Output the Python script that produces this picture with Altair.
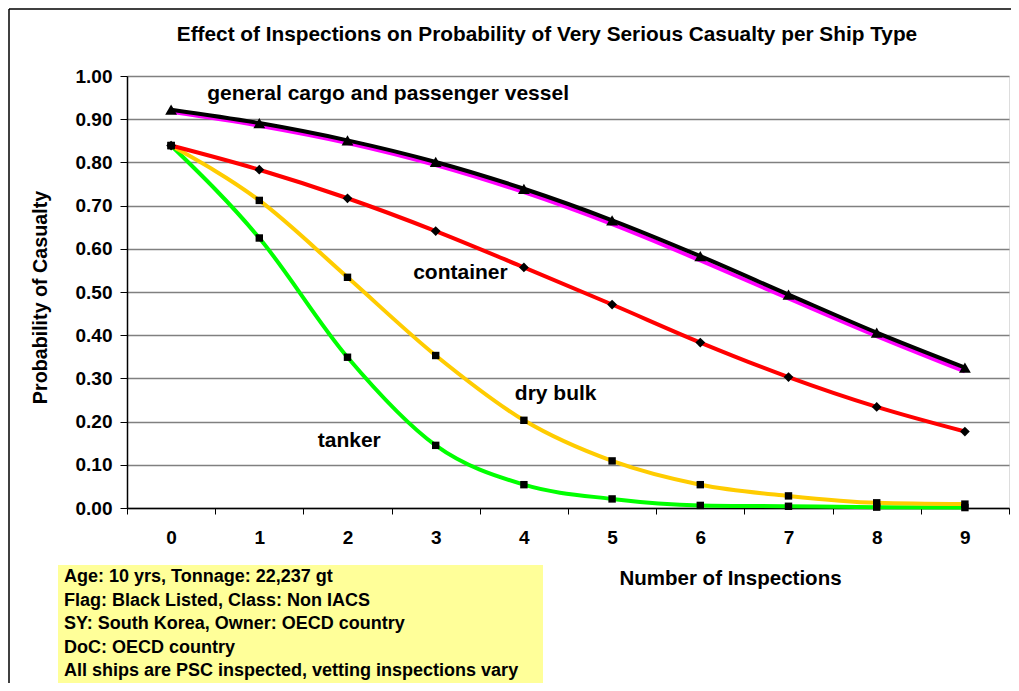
import altair as alt
import pandas as pd

# ---- data ----
inspections = list(range(10))
general_cargo = [0.922, 0.891, 0.851, 0.801, 0.739, 0.666, 0.583, 0.494, 0.406, 0.325]
passenger = [0.917, 0.885, 0.845, 0.794, 0.731, 0.657, 0.573, 0.485, 0.398, 0.316]
container = [0.839, 0.783, 0.717, 0.641, 0.557, 0.471, 0.383, 0.303, 0.234, 0.177]
dry_bulk = [0.839, 0.712, 0.534, 0.353, 0.203, 0.109, 0.054, 0.028, 0.012, 0.009]
tanker = [0.839, 0.625, 0.349, 0.145, 0.054, 0.021, 0.006, 0.004, 0.002, 0.001]

label_texts = ["general cargo and passenger vessel", "container", "dry bulk", "tanker"]
label_x = [2.46, 3.28, 4.36, 2.02]
label_y = [0.958, 0.544, 0.264, 0.155]

title_text = "Effect of Inspections on Probability of Very Serious Casualty per Ship Type"

info_lines = [
    "Age: 10 yrs, Tonnage: 22,237 gt",
    "Flag: Black Listed, Class: Non IACS",
    "SY: South Korea, Owner: OECD country",
    "DoC: OECD country",
    "All ships are PSC inspected, vetting inspections vary",
]

FONT = "Liberation Sans"
W, H = 882, 432

series = [
    ("tanker", tanker, "#00FF00", "square", 55),
    ("dry bulk", dry_bulk, "#FFCC00", "square", 55),
    ("container", container, "#FF0000", "diamond", 95),
    ("passenger vessel", passenger, "#FF00FF", None, 0),
    ("general cargo", general_cargo, "#000000", "triangle-up", 140),
]

x_scale = alt.Scale(domain=[-0.5, 9.5], nice=False, zero=False)
y_scale = alt.Scale(domain=[0, 1], nice=False)

x_axis = alt.Axis(
    values=[i - 0.5 for i in range(11)],
    labelExpr="datum.value < 9 ? format(datum.value + 0.5, 'd') : ''",
    labelOffset=44.1,
    labelFlush=False,
    labelOverlap=False,
    labelBound=False,
    labelPadding=14,
    labelFontSize=19,
    labelFontWeight="bold",
    labelFont=FONT,
    labelColor="black",
    tickSize=6,
    tickColor="#000000",
    domainColor="#000000",
    domainWidth=1.5,
    grid=False,
    title="Number of Inspections",
    titleFont=FONT,
    titleFontSize=20.5,
    titleFontWeight="bold",
    titleX=603,
    titleY=70,
    titleAlign="center",
    titleBaseline="middle",
    titleColor="black",
)

y_axis = alt.Axis(
    values=[round(i * 0.1, 1) for i in range(11)],
    format=".2f",
    labelFontSize=19,
    labelFontWeight="bold",
    labelFont=FONT,
    labelColor="black",
    labelPadding=8,
    tickSize=7,
    tickColor="#000000",
    domainColor="#000000",
    domainWidth=1.5,
    grid=True,
    gridColor="#808080",
    gridWidth=1.5,
    title="Probability of Casualty",
    titleFont=FONT,
    titleFontSize=19.7,
    titleFontWeight="bold",
    titleX=-87,
    titleY=221,
    titleAlign="center",
    titleBaseline="middle",
    titleColor="black",
)

X = alt.X("Inspections:Q", scale=x_scale, axis=x_axis)
Y = alt.Y("Probability:Q", scale=y_scale, axis=y_axis)

layers = []
for name, vals, color, shape, size in series:
    df = pd.DataFrame({"Inspections": inspections, "Probability": vals, "Series": name})
    line = alt.Chart(df).mark_line(
        color=color, strokeWidth=4, interpolate="monotone"
    ).encode(x=X, y=Y)
    layers.append(line)

for name, vals, color, shape, size in series:
    if shape is None:
        continue
    df = pd.DataFrame({"Inspections": inspections, "Probability": vals, "Series": name})
    pts = alt.Chart(df).mark_point(
        shape=shape, filled=True, color="black", size=size, opacity=1
    ).encode(x=X, y=Y)
    layers.append(pts)

labels_df = pd.DataFrame({"Inspections": label_x, "Probability": label_y, "text": label_texts})
labels = alt.Chart(labels_df).mark_text(
    font=FONT, fontSize=21, fontWeight="bold", color="black", align="center", baseline="middle"
).encode(x=X, y=Y, text="text:N")
layers.append(labels)

box_df = pd.DataFrame({"id": [0]})
box = alt.Chart(box_df).mark_rect(color="#FFFF99").encode(
    x=alt.value(-69), x2=alt.value(416), y=alt.value(489), y2=alt.value(610)
)
info = alt.Chart(box_df).mark_text(
    text=info_lines, font=FONT, fontSize=18, fontWeight="bold", color="black",
    align="left", baseline="middle", lineHeight=23.6
).encode(x=alt.value(-63), y=alt.value(501))

title = alt.Chart(box_df).mark_text(
    text=title_text, font=FONT, fontSize=20.8, fontWeight="bold", color="black",
    align="center", baseline="middle"
).encode(x=alt.value(420), y=alt.value(-41))

# outer chart frame (left and top edges visible in the reference)
frame_left = alt.Chart(box_df).mark_rule(color="black", strokeWidth=1.5).encode(
    x=alt.value(-118), y=alt.value(-67), y2=alt.value(610)
)
frame_top = alt.Chart(box_df).mark_rule(color="black", strokeWidth=1.5).encode(
    x=alt.value(-118), x2=alt.value(890), y=alt.value(-67)
)
layers.extend([box, info, title, frame_left, frame_top])

chart = alt.layer(*layers).properties(
    width=W,
    height=H,
    padding={"left": 119, "top": 68, "right": 2, "bottom": 175},
    autosize=alt.AutoSizeParams(type="none"),
).configure_view(stroke="#808080", strokeWidth=1.5).configure(background="white")

chart.save("out.html", embed_options={"renderer": "svg", "actions": False})
